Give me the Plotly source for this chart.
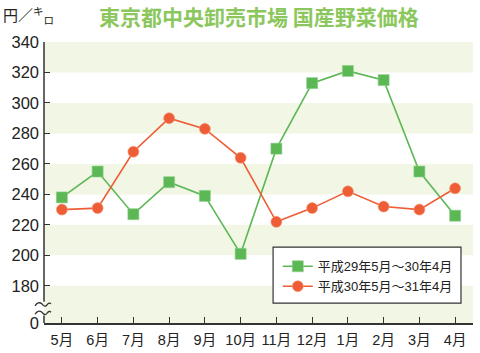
import plotly.graph_objects as go

months = ["5月", "6月", "7月", "8月", "9月", "10月", "11月", "12月", "1月", "2月", "3月", "4月"]
h29 = [238, 255, 227, 248, 239, 201, 270, 313, 321, 315, 255, 226]
h30 = [230, 231, 268, 290, 283, 264, 222, 231, 242, 232, 230, 244]
name29 = "平成29年5月～30年4月"
name30 = "平成30年5月～31年4月"

ZERO = 155.6  # position of the broken-axis "0"
ytick_vals = [ZERO, 180, 200, 220, 240, 260, 280, 300, 320, 340]
ytick_text = ["0", "180", "200", "220", "240", "260", "280", "300", "320", "340"]
bands = [(320, 340), (280, 300), (240, 260), (200, 220), (ZERO, 180)]

GREEN = "#5cb755"
ORANGE = "#ee5d35"
BAND = "#f1f6e5"
FONT = "Liberation Sans, Noto Sans CJK JP, sans-serif"

fig = go.Figure()
fig.add_trace(go.Scatter(x=months, y=h29, name=name29, mode="lines+markers",
                         line=dict(color=GREEN, width=1.6),
                         marker=dict(symbol="square", size=11, color=GREEN,
                                     line=dict(color="#8fd08a", width=0.6))))
fig.add_trace(go.Scatter(x=months, y=h30, name=name30, mode="lines+markers",
                         line=dict(color=ORANGE, width=1.6),
                         marker=dict(symbol="circle", size=11, color=ORANGE,
                                     line=dict(color="#f59a80", width=0.6))))

shapes = []
for y0, y1 in bands:
    shapes.append(dict(type="rect", xref="paper", yref="y", x0=0, x1=1, y0=y0, y1=y1,
                       fillcolor=BAND, line=dict(width=0), layer="below"))
# legend box
shapes.append(dict(type="rect", xref="paper", yref="paper", x0=0.534, x1=0.972, y0=0.071, y1=0.270,
                   fillcolor="white", line=dict(color="#333", width=1.2), layer="below"))
# y axis line with a break
shapes.append(dict(type="line", xref="paper", yref="y", x0=0, x1=0, y0=340, y1=169.5,
                   line=dict(color="#333", width=1.5)))
shapes.append(dict(type="line", xref="paper", yref="y", x0=0, x1=0, y0=160.5, y1=ZERO,
                   line=dict(color="#333", width=1.5)))
for yb in [167.5, 162.0]:
    shapes.append(dict(type="path", xref="paper", yref="y", xsizemode="pixel", xanchor=0,
                       ysizemode="pixel", yanchor=yb,
                       path="M -9,-1 Q -6,4 -2,1 Q 1,-3 3,0 Q 5,3 7,1",
                       line=dict(color="#333", width=1.3)))

fig.update_layout(
    width=480, height=353,
    margin=dict(l=44, r=7, t=42, b=30),
    paper_bgcolor="white", plot_bgcolor="white",
    font=dict(family=FONT, color="#222", size=13),
    showlegend=True,
    legend=dict(x=0.545, y=0.255, xanchor="left", yanchor="top",
                bgcolor="rgba(0,0,0,0)", borderwidth=0,
                font=dict(size=13, color="#222"), tracegroupgap=0,
                itemwidth=30),
    shapes=shapes,
    annotations=[
        dict(text="<b>東京都中央卸売市場 国産野菜価格</b>", xref="paper", yref="paper",
             x=0.501, y=1.093, xanchor="center", yanchor="middle", showarrow=False,
             font=dict(size=21, color="#8cc75e", family="Noto Sans CJK JP")),
        dict(text="円／<sup>キ</sup><sub>ロ</sub>", xref="paper", yref="paper",
             x=-0.035, y=1.095, xanchor="center", yanchor="middle", showarrow=False,
             font=dict(size=15, color="#222", family="Noto Sans CJK JP")),
    ],
)
fig.update_xaxes(type="category", range=[-0.5, 11.5], showgrid=False, showline=True,
                 linecolor="#333", linewidth=1.5, ticks="inside", ticklen=6,
                 tickcolor="#333", tickwidth=1.3, tickfont=dict(size=14.5), zeroline=False,
                 ticklabelstandoff=3, automargin=False)
fig.update_yaxes(range=[ZERO, 340], tickmode="array", tickvals=ytick_vals, ticktext=ytick_text,
                 showgrid=False, showline=False, ticks="inside", ticklen=6,
                 tickcolor="#333", tickwidth=1.3, tickfont=dict(size=16.5), zeroline=False,
                 ticklabelstandoff=4, automargin=False)

fig.write_html("out.html")
